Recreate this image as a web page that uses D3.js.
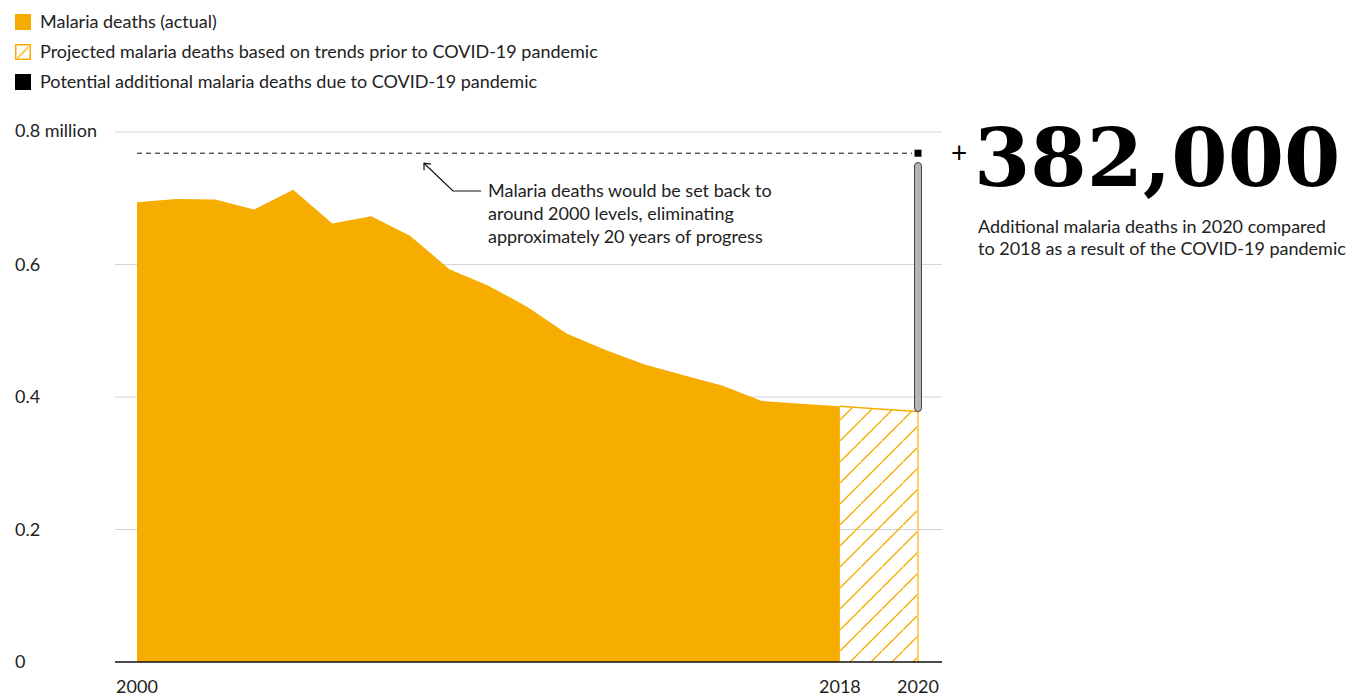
<!DOCTYPE html>
<html>
<head>
<meta charset="utf-8">
<script src="https://cdn.jsdelivr.net/npm/d3@7"></script>
<style>
  body { margin: 0; background: #fff; }
</style>
</head>
<body>
<div id="chart"></div>
<script>
// datos (millones de muertes)
const years = [2000, 2001, 2002, 2003, 2004, 2005, 2006, 2007, 2008, 2009,
               2010, 2011, 2012, 2013, 2014, 2015, 2016, 2017, 2018]
const deaths = [0.694, 0.699, 0.698, 0.683, 0.713, 0.662, 0.673, 0.643, 0.593, 0.568,
                0.536, 0.496, 0.471, 0.449, 0.433, 0.417, 0.394, 0.390, 0.386]
const projYears = [2018, 2019, 2020]
const projDeaths = [0.386, 0.382, 0.378]
const additional = 0.382
const yTicks = [0, 0.2, 0.4, 0.6, 0.8]
const yTickLabels = ["0", "0.2", "0.4", "0.6", "0.8 million"]
const xTicks = [2000, 2018, 2020]
const legendItems = [
  "Malaria deaths (actual)",
  "Projected malaria deaths based on trends prior to COVID-19 pandemic",
  "Potential additional malaria deaths due to COVID-19 pandemic"
]
const noteLines = [
  "Malaria deaths would be set back to",
  "around 2000 levels, eliminating",
  "approximately 20 years of progress"
]
const bigNumber = "382,000"
const subLines = [
  "Additional malaria deaths in 2020 compared",
  "to 2018 as a result of the COVID-19 pandemic"
]

const width = 1357
const height = 696
const orange = "#f7ad00"
const font = "Lato, 'Open Sans', sans-serif"
const fs = 18

const svg = d3.select("#chart").append("svg")
    .attr("width", width).attr("height", height)
    .style("font-family", font)

// escalas
const x = d3.scaleLinear().domain([2000, 2020]).range([137, 918])
const y = d3.scaleLinear().domain([0, 0.8]).range([662, 132])
const gridLeft = 115, gridRight = 942

// patron rayado
const defs = svg.append("defs")
const pat = defs.append("pattern")
    .attr("id", "hatch")
    .attr("patternUnits", "userSpaceOnUse")
    .attr("width", 21).attr("height", 21)
pat.append("path")
    .attr("d", "M-2,23 L23,-2 M-3,2 L2,-3 M19,24 L24,19")
    .attr("stroke", orange).attr("stroke-width", 1.4)
const patL = defs.append("pattern")
    .attr("id", "hatchLegend")
    .attr("patternUnits", "objectBoundingBox")
    .attr("width", 1).attr("height", 1)
patL.append("path")
    .attr("d", "M2,13 L13,2")
    .attr("stroke", orange).attr("stroke-width", 1.3)

// rejilla
svg.append("g").selectAll("line").data(yTicks.filter(d => d > 0))
  .join("line")
    .attr("x1", gridLeft).attr("x2", gridRight)
    .attr("y1", d => y(d)).attr("y2", d => y(d))
    .attr("stroke", "#d4d4d4").attr("stroke-width", 1)

// etiquetas eje y
svg.append("g").selectAll("text").data(yTicks)
  .join("text")
    .attr("x", 15)
    .attr("y", d => y(d) + (d === 0.8 ? -1 : 0))
    .attr("dy", "0.35em")
    .attr("font-size", fs)
    .attr("fill", "#222")
    .text((d, i) => yTickLabels[i])

// area real
const actual = years.map((d, i) => ({year: d, v: deaths[i]}))
const proj = projYears.map((d, i) => ({year: d, v: projDeaths[i]}))
const area = d3.area().x(d => x(d.year)).y0(y(0)).y1(d => y(d.v))

svg.append("path").datum(actual)
    .attr("d", area)
    .attr("fill", orange)

// area proyectada
svg.append("path").datum(proj)
    .attr("d", area)
    .attr("fill", "url(#hatch)")
svg.append("path").datum(proj)
    .attr("d", d3.line().x(d => x(d.year)).y(d => y(d.v)))
    .attr("fill", "none").attr("stroke", orange).attr("stroke-width", 1.5)
svg.append("line")
    .attr("x1", x(2020)).attr("x2", x(2020))
    .attr("y1", y(projDeaths[2])).attr("y2", y(0))
    .attr("stroke", "#fbcf6a").attr("stroke-width", 2)

// linea base
svg.append("line")
    .attr("x1", gridLeft).attr("x2", gridRight)
    .attr("y1", y(0)).attr("y2", y(0))
    .attr("stroke", "#111").attr("stroke-width", 1.6)

// linea discontinua nivel 2000
const level = deaths[deaths.length - 1] + additional
svg.append("line")
    .attr("x1", x(2000)).attr("x2", x(2020) - 6)
    .attr("y1", y(level)).attr("y2", y(level))
    .attr("stroke", "#111").attr("stroke-width", 1)
    .attr("stroke-dasharray", "5,4")
svg.append("rect")
    .attr("x", x(2020) - 3.5).attr("y", y(level) - 3.5)
    .attr("width", 7).attr("height", 7)
    .attr("fill", "#000")

// barra gris
const barTop = y(projDeaths[2] + additional) + 4
svg.append("rect")
    .attr("x", x(2020) - 3.5).attr("y", barTop)
    .attr("width", 7).attr("height", y(projDeaths[2]) - barTop)
    .attr("rx", 3.5)
    .attr("fill", "#b5b5b5").attr("stroke", "#444").attr("stroke-width", 1)

// etiquetas eje x
svg.append("g").selectAll("text").data(xTicks)
  .join("text")
    .attr("x", d => x(d))
    .attr("y", 687)
    .attr("dy", "0.35em")
    .attr("text-anchor", "middle")
    .attr("font-size", fs)
    .attr("fill", "#222")
    .text(d => d)

// leyenda
const legend = svg.append("g")
legendItems.forEach((t, i) => {
  const ly = 22 + i * 30
  const sw = legend.append("rect")
      .attr("x", 15).attr("y", ly - 8).attr("width", 16).attr("height", 16)
  if (i === 0) sw.attr("fill", orange)
  else if (i === 1) sw.attr("x", 15.75).attr("y", ly - 7.25).attr("width", 14.5).attr("height", 14.5)
      .attr("fill", "url(#hatchLegend)").attr("stroke", orange).attr("stroke-width", 1.5)
  else sw.attr("fill", "#000")
  legend.append("text")
      .attr("x", 40).attr("y", ly).attr("dy", "0.35em")
      .attr("font-size", fs)
      .attr("fill", "#222")
      .text(t)
})

// anotacion
const tip = [x(2007.35), y(level) + 10]
const elbow = [453, 191]
svg.append("path")
    .attr("d", `M${tip[0]},${tip[1]} L${elbow[0]},${elbow[1]} L${elbow[0] + 28},${elbow[1]}`)
    .attr("fill", "none").attr("stroke", "#111").attr("stroke-width", 1.2)
svg.append("path")
    .attr("d", `M${tip[0]},${tip[1] + 7} L${tip[0]},${tip[1]} L${tip[0] + 7},${tip[1] + 1}`)
    .attr("fill", "none").attr("stroke", "#111").attr("stroke-width", 1.2)
svg.append("g").selectAll("text").data(noteLines)
  .join("text")
    .attr("x", 488)
    .attr("y", (d, i) => 191 + i * 23)
    .attr("dy", "0.35em")
    .attr("font-size", fs)
    .attr("fill", "#222")
    .text(d => d)

// numero grande
svg.append("text")
    .attr("x", 951).attr("y", 163)
    .attr("font-size", 28)
    .attr("fill", "#000")
    .text("+")
svg.append("text")
    .attr("x", 974).attr("y", 186)
    .style("font-family", "'DejaVu Serif', 'Liberation Serif', serif")
    .attr("font-weight", "bold")
    .attr("font-size", 81)
    .attr("fill", "#000")
    .text(bigNumber)
svg.append("g").selectAll("text").data(subLines)
  .join("text")
    .attr("x", 978)
    .attr("y", (d, i) => 227 + i * 22)
    .attr("dy", "0.35em")
    .attr("font-size", fs)
    .attr("fill", "#222")
    .text(d => d)
</script>
</body>
</html>
